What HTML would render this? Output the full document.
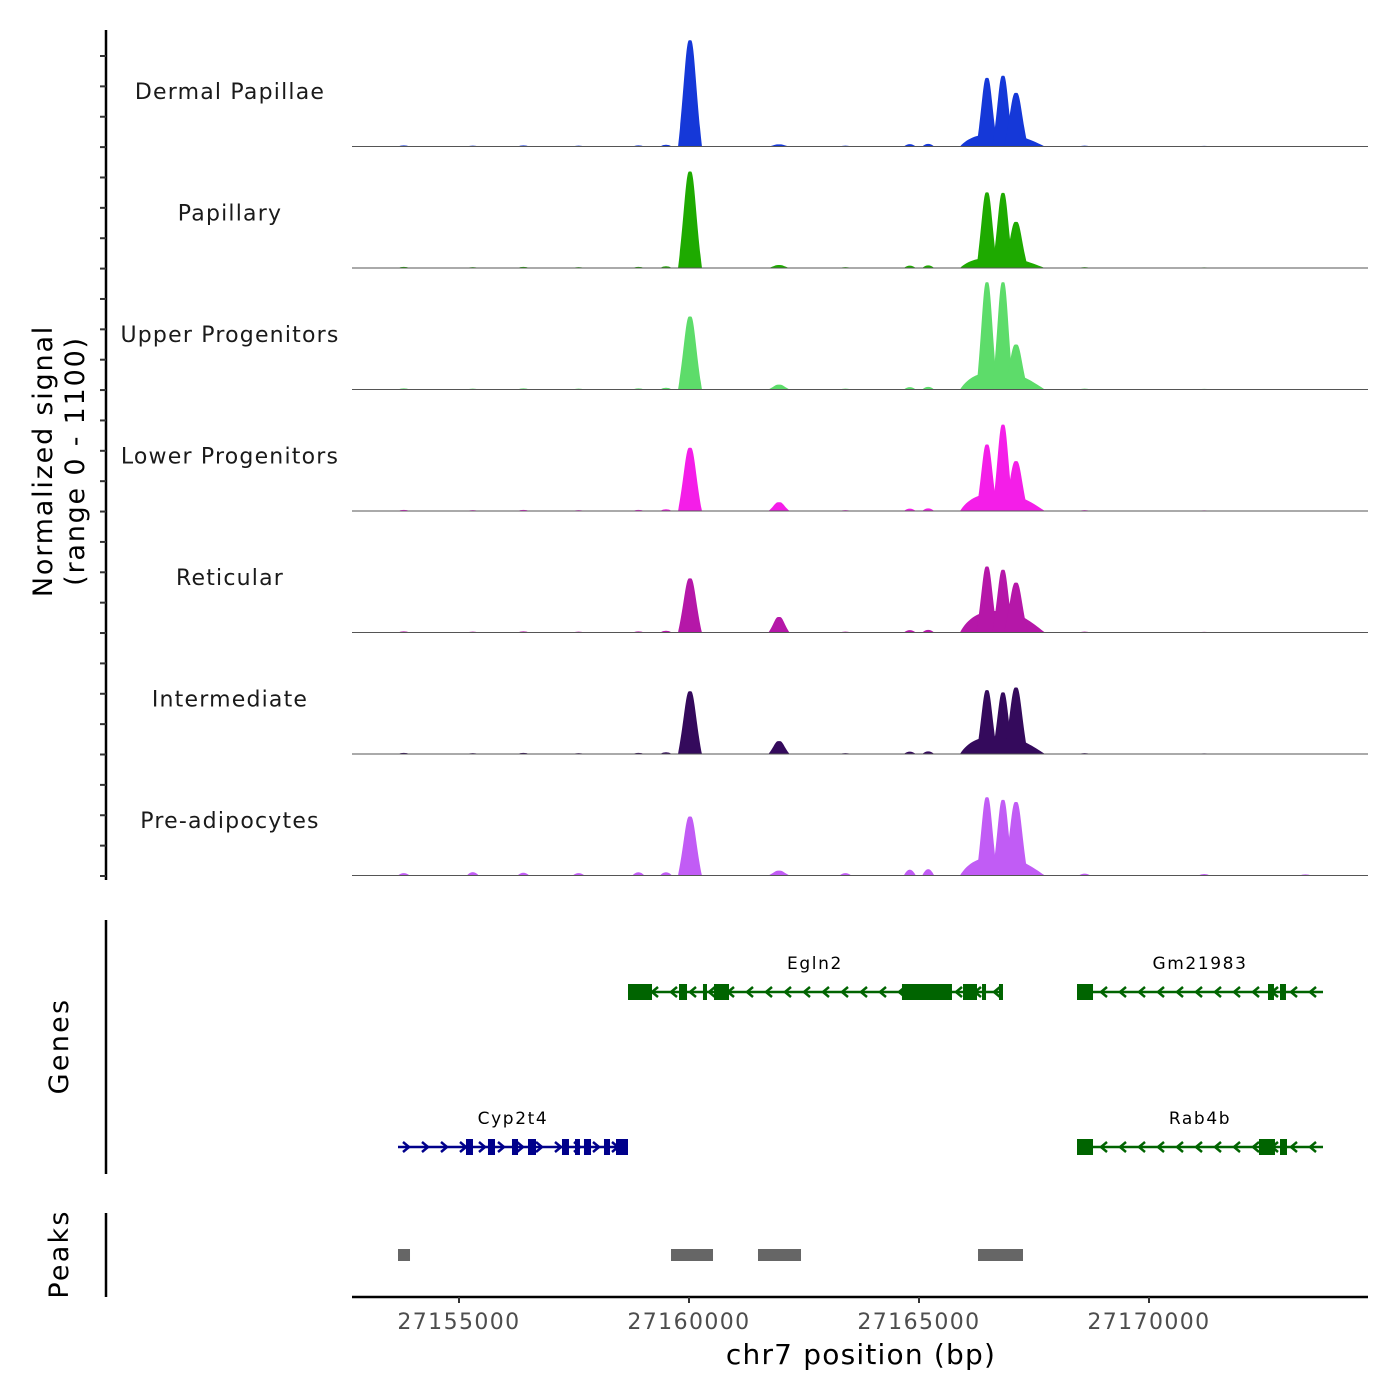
<!DOCTYPE html>
<html><head><meta charset="utf-8"><style>
body{margin:0;background:#fff}
svg{display:block;font-family:"DejaVu Sans","Liberation Sans",sans-serif}
</style></head><body>
<svg id="chart" width="1400" height="1400" viewBox="0 0 1400 1400"></svg>
<script>
// ---- data ----
const trackNames = ["Dermal Papillae","Papillary","Upper Progenitors","Lower Progenitors","Reticular","Intermediate","Pre-adipocytes"];
const trackColors = ["#1538d8","#1eaa00","#5ddc6a","#f41ee8","#b517a8","#340a5c","#c15cf5"];
// peak centers (bp) and half widths (bp)
const peakCenters = [27160022, 27161957, 27166478, 27166826, 27167109];
const peakHalfWidths = [260, 230, 230, 230, 260];
// signal heights (0-1100) per track for each peak
const peakDP  = [990, 20, 640, 660, 500];
const peakPap = [900, 28, 705, 700, 430];
const peakUp  = [680, 45, 1000, 1000, 420];
const peakLow = [590, 82, 620, 805, 465];
const peakRet = [505, 145, 615, 585, 465];
const peakInt = [585, 120, 595, 575, 620];
const peakPre = [550, 45, 730, 705, 685];
const peakHeights = [peakDP, peakPap, peakUp, peakLow, peakRet, peakInt, peakPre];
// broad base under cluster: start, end, height per track
const baseStart = 27165891, baseEnd = 27167739;
const baseHeights = [120, 100, 165, 165, 200, 165, 175];
// small background bumps
const bumpPositions = [27153800, 27155300, 27156400, 27157600, 27158900, 27159500, 27163400, 27164800, 27165200, 27168600, 27171200, 27173400];
const bumpHeights = [10, 8, 10, 8, 10, 16, 8, 22, 24, 8, 6, 5];
const preBumpHeights = [22, 32, 26, 22, 30, 30, 22, 55, 60, 18, 14, 10];
// genes
const geneNames = ["Egln2","Gm21983","Cyp2t4","Rab4b"];
const geneStart = [27158674, 27168435, 27153674, 27168435];
const geneEnd = [27166804, 27173783, 27158674, 27173783];
const geneRow = [0, 0, 1, 1];
const geneStrand = [-1, -1, 1, -1];
const geneColors = ["#006400","#006400","#00008b","#006400"];
const geneExons = [
 [[27158674,27159196],[27159783,27159957],[27160304,27160391],[27160544,27160870],[27164630,27165717],[27165957,27166261],[27166370,27166435],[27166739,27166804]],
 [[27168435,27168783],[27172587,27172717],[27172848,27172978]],
 [[27155152,27155304],[27155630,27155783],[27156152,27156283],[27156500,27156674],[27157239,27157391],[27157522,27157630],[27157717,27157870],[27158152,27158283],[27158413,27158674]],
 [[27168435,27168783],[27172391,27172739],[27172848,27173000]]
];
// peaks track
const peakRegionStart = [27153674, 27159609, 27161500, 27166283];
const peakRegionEnd = [27153935, 27160522, 27162435, 27167261];
// axis
const xTicks = [27155000, 27160000, 27165000, 27170000];
const xTickLabels = ["27155000","27160000","27165000","27170000"];

// ---- scales ----
const X0 = 352, X1 = 1368, BP0 = 27152674, BP1 = 27174761;
const x = bp => X0 + (bp - BP0) / (BP1 - BP0) * (X1 - X0);
const TRACK_TOP = 25, TRACK_H = 121.5;
const baseY = i => TRACK_TOP + (i + 1) * TRACK_H;
const yScale = v => v / 1100 * 118;

const NS = "http://www.w3.org/2000/svg";
const svg = document.getElementById("chart");
function mk(tag, attrs, parent) {
  const e = document.createElementNS(NS, tag);
  for (const k in attrs) e.setAttribute(k, attrs[k]);
  (parent || svg).appendChild(e);
  return e;
}

// tracks
trackNames.forEach((name, i) => {
  const g = mk("g", {});
  
  
  const by = baseY(i), col = trackColors[i];
  const bh = yScale(baseHeights[i]);
  const bs = x(baseStart), be = x(baseEnd);
  const base = mk("path", {d: `M${bs},${by} C${bs+8},${by-bh*0.7} ${bs+20},${by-bh} ${bs+35},${by-bh} L${be-30},${by-bh*0.9} C${be-15},${by-bh*0.6} ${be-6},${by-bh*0.2} ${be},${by} Z`, fill: col}, g);
  
  
  const bh2 = i === 6 ? preBumpHeights : bumpHeights;
  bumpPositions.forEach((p, k) => {
    const h = yScale(bh2[k]);
    const b = mk("path", {d: `M${x(p)-6},${by} Q${x(p)},${by-2*h} ${x(p)+6},${by} Z`, fill: col}, g);
    
    
  });
  peakCenters.forEach((c, k) => {
    const h = yScale(peakHeights[i][k]);
    const w = peakHalfWidths[k];
    const l = x(c - w), r = x(c + w), m = x(c);
    const hw = m - l;
    const d = `M${l},${by} C${m-hw*0.5},${by-h*0.5} ${m-hw*0.35},${by-h} ${m-1},${by-h} L${m+1},${by-h} C${m+hw*0.35},${by-h} ${m+hw*0.5},${by-h*0.5} ${r},${by} Z`;
    const p = mk("path", {d, fill: col}, g);
    
    
  });
  const bl = mk("line", {x1: X0, x2: X1, y1: by, y2: by, stroke: "#555", "stroke-width": 1}, g);
  
  
  const t = mk("text", {x: 230, y: TRACK_TOP + i * TRACK_H + 74, "text-anchor": "middle", "font-size": 22, fill: "#1a1a1a", "letter-spacing": "1.2"}, g);
  t.textContent = name;
  
  
});

// left axes
const la = mk("line", {x1: 106, x2: 106, y1: 30, y2: 880, stroke: "#000", "stroke-width": 2.5});


for (let y = 56; y <= 878; y += 30.37) {
  const tk = mk("line", {x1: 100, x2: 106, y1: y, y2: y, stroke: "#333", "stroke-width": 2});
  
  
}
const yt = mk("text", {transform: "translate(52,461) rotate(-90)", "text-anchor": "middle", "font-size": 27, fill: "#000", "letter-spacing": "1.8"});


yt.innerHTML = '<tspan x="0" dy="0">Normalized signal</tspan><tspan x="0" dy="32">(range 0 - 1100)</tspan>';

const ga = mk("line", {x1: 106, x2: 106, y1: 920, y2: 1174, stroke: "#000", "stroke-width": 2.5});


const gt = mk("text", {transform: "translate(68,1046) rotate(-90)", "text-anchor": "middle", "font-size": 27, "letter-spacing": "2.3"});
gt.textContent = "Genes";


const pa = mk("line", {x1: 106, x2: 106, y1: 1213, y2: 1297, stroke: "#000", "stroke-width": 2.5});


const pt = mk("text", {transform: "translate(68,1254) rotate(-90)", "text-anchor": "middle", "font-size": 27, "letter-spacing": "2.2"});
pt.textContent = "Peaks";



// genes
const rowY = [992, 1147];
geneNames.forEach((n, gi) => {
  const g = mk("g", {});
  
  
  const y = rowY[geneRow[gi]], col = geneColors[gi];
  const s = x(geneStart[gi]), e = x(geneEnd[gi]);
  mk("line", {x1: s, x2: e, y1: y, y2: y, stroke: col, "stroke-width": 2.5}, g);
  const dir = geneStrand[gi];
  for (let px = s + 8; px < e - 4; px += 19) {
    mk("polyline", {points: `${px - 3*dir},${y-5} ${px+3*dir},${y} ${px-3*dir},${y+5}`, fill: "none", stroke: col, "stroke-width": 2.5}, g);
  }
  geneExons[gi].forEach(ex => {
    const r = mk("rect", {x: x(ex[0]), y: y - 8, width: Math.max(4, x(ex[1]) - x(ex[0])), height: 16, fill: col}, g);
    
    
  });
  const t = mk("text", {x: (s + e) / 2, y: y - 23, "text-anchor": "middle", "font-size": 17, fill: "#000", "letter-spacing": "1.6"}, g);
  t.textContent = n;
  
  
});

// peaks
peakRegionStart.forEach((s, k) => {
  const r = mk("rect", {x: x(s), y: 1249, width: x(peakRegionEnd[k]) - x(s), height: 12, fill: "#666"});
  
  
});

// x axis
const xa = mk("line", {x1: X0, x2: X1, y1: 1297, y2: 1297, stroke: "#000", "stroke-width": 2.5});


xTicks.forEach((v, k) => {
  const tk = mk("line", {x1: x(v), x2: x(v), y1: 1297, y2: 1303, stroke: "#333", "stroke-width": 2});
  
  
  const t = mk("text", {x: x(v), y: 1329, "text-anchor": "middle", "font-size": 22, fill: "#4d4d4d", "letter-spacing": "1.4"});
  t.textContent = xTickLabels[k];
  
  
});
const xt = mk("text", {x: 861, y: 1364, "text-anchor": "middle", "font-size": 28, fill: "#000", "letter-spacing": "1.2"});
xt.textContent = "chr7 position (bp)";


</script>
</body></html>
